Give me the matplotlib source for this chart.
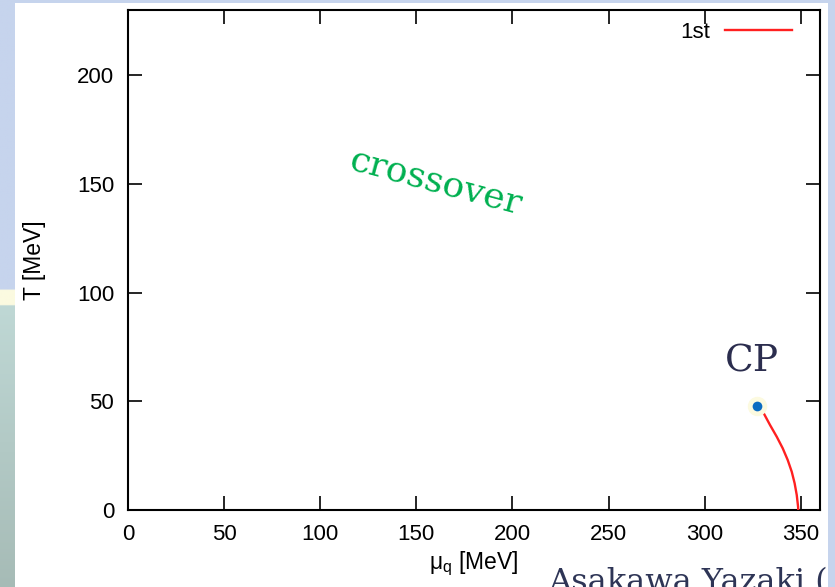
import numpy as np
import matplotlib
matplotlib.use("Agg")
import matplotlib.pyplot as plt
from matplotlib.patches import Rectangle

# ---- data ----
first_mu = [330.9, 334.0, 337.5, 340.6, 343.2, 345.3, 346.8, 347.9, 348.6, 348.7]
first_T = [44.2, 39.1, 33.7, 28.4, 23.0, 17.6, 12.3, 6.9, 1.5, 0]
cp_mu = [327.4]
cp_T = [47.8]
x_ticks = [0, 50, 100, 150, 200, 250, 300, 350]
y_ticks = [0, 50, 100, 150, 200]

W, H = 835, 587
fig = plt.figure(figsize=(W / 100, H / 100), dpi=100)
fig.patch.set_facecolor("#c6d4ed")

# white slide panel (as background axes)
panel = fig.add_axes([15 / W, 0, (828 - 15) / W, 584 / H], zorder=-2)
panel.set_axis_off()
panel.add_patch(Rectangle((0, 0), 1, 1, transform=panel.transAxes,
                          facecolor="white", edgecolor="none"))

# left decorative strip
bg = fig.add_axes([0, 0, 15 / W, 1], zorder=-1)
n = 300
cols = np.zeros((n, 1, 3))
top = np.array([0xc6, 0xd4, 0xed]) / 255
yel = np.array([0xfb, 0xfa, 0xe0]) / 255
g1 = np.array([0xbf, 0xd8, 0xd5]) / 255
g2 = np.array([0xa6, 0xbb, 0xb6]) / 255
for i in range(n):
    ypix = i / n * H
    if ypix < 288:
        c = top
    elif ypix < 305:
        c = yel
    else:
        t = (ypix - 305) / (H - 305)
        c = g1 * (1 - t) + g2 * t
    cols[i, 0] = c
bg.imshow(cols, aspect="auto", extent=[0, 1, H, 0])
bg.set_axis_off()

ax = fig.add_axes([128 / W, 1 - 510 / H, (820 - 128) / W, (510 - 10) / H],
                  zorder=1)
ax.set_facecolor("white")
ax.set_xlim(0, 360)
ax.set_ylim(0, 230)
for s in ax.spines.values():
    s.set_linewidth(1.5)
    s.set_color("black")

font = "Liberation Sans"
fs = 16
ax.set_xticks(x_ticks)
ax.set_yticks(y_ticks)
ax.set_xticklabels([str(v) for v in x_ticks], fontsize=fs, family=font)
ax.set_yticklabels([str(v) for v in y_ticks], fontsize=fs, family=font)
ax.tick_params(direction="in", length=10, width=1.2, top=True, right=True,
               pad=10)

plt.rcParams["mathtext.fontset"] = "custom"
plt.rcParams["mathtext.rm"] = font
plt.rcParams["mathtext.it"] = font
ax.set_xlabel(r"$\mathregular{\mu_q}$ [MeV]", fontsize=16.5, family=font)
ax.xaxis.set_label_coords(0.5, -0.08)
ax.set_ylabel("T [MeV]", fontsize=16.5, family=font)
ax.yaxis.set_label_coords(-0.118, 0.5)

# first-order line
ax.plot(first_mu, first_T, color="#ff2020", lw=1.7, label="1st", zorder=3,
        solid_joinstyle="round")
# critical point
ax.plot(cp_mu, cp_T, "o", ms=14, color="#fcfae0", mec="none", zorder=4)
ax.plot(cp_mu, cp_T, "o", ms=7, color="#0b6cc2", mec="none", zorder=5)

leg = ax.legend(loc="upper right", bbox_to_anchor=(0.9595, 0.977),
                frameon=False, markerfirst=False, borderpad=0,
                borderaxespad=0, handlelength=3.0, handletextpad=0.7,
                prop={"family": font, "size": fs})

ax.text(324.5, 68.5, "CP", fontsize=27, family="DejaVu Serif",
        color="#2b2d4e", ha="center", va="center")
ax.text(160, 150.5, "crossover", fontsize=26, family="DejaVu Serif",
        color="#00b050", ha="center", va="center", rotation=-15)

fig.text(548 / W, 1 - 591 / H, "Asakawa Yazaki (", fontsize=23,
         family="DejaVu Serif", color="#2e3556", ha="left", va="baseline",
         zorder=5)

fig.savefig("out.png", dpi=100, facecolor=fig.get_facecolor())
